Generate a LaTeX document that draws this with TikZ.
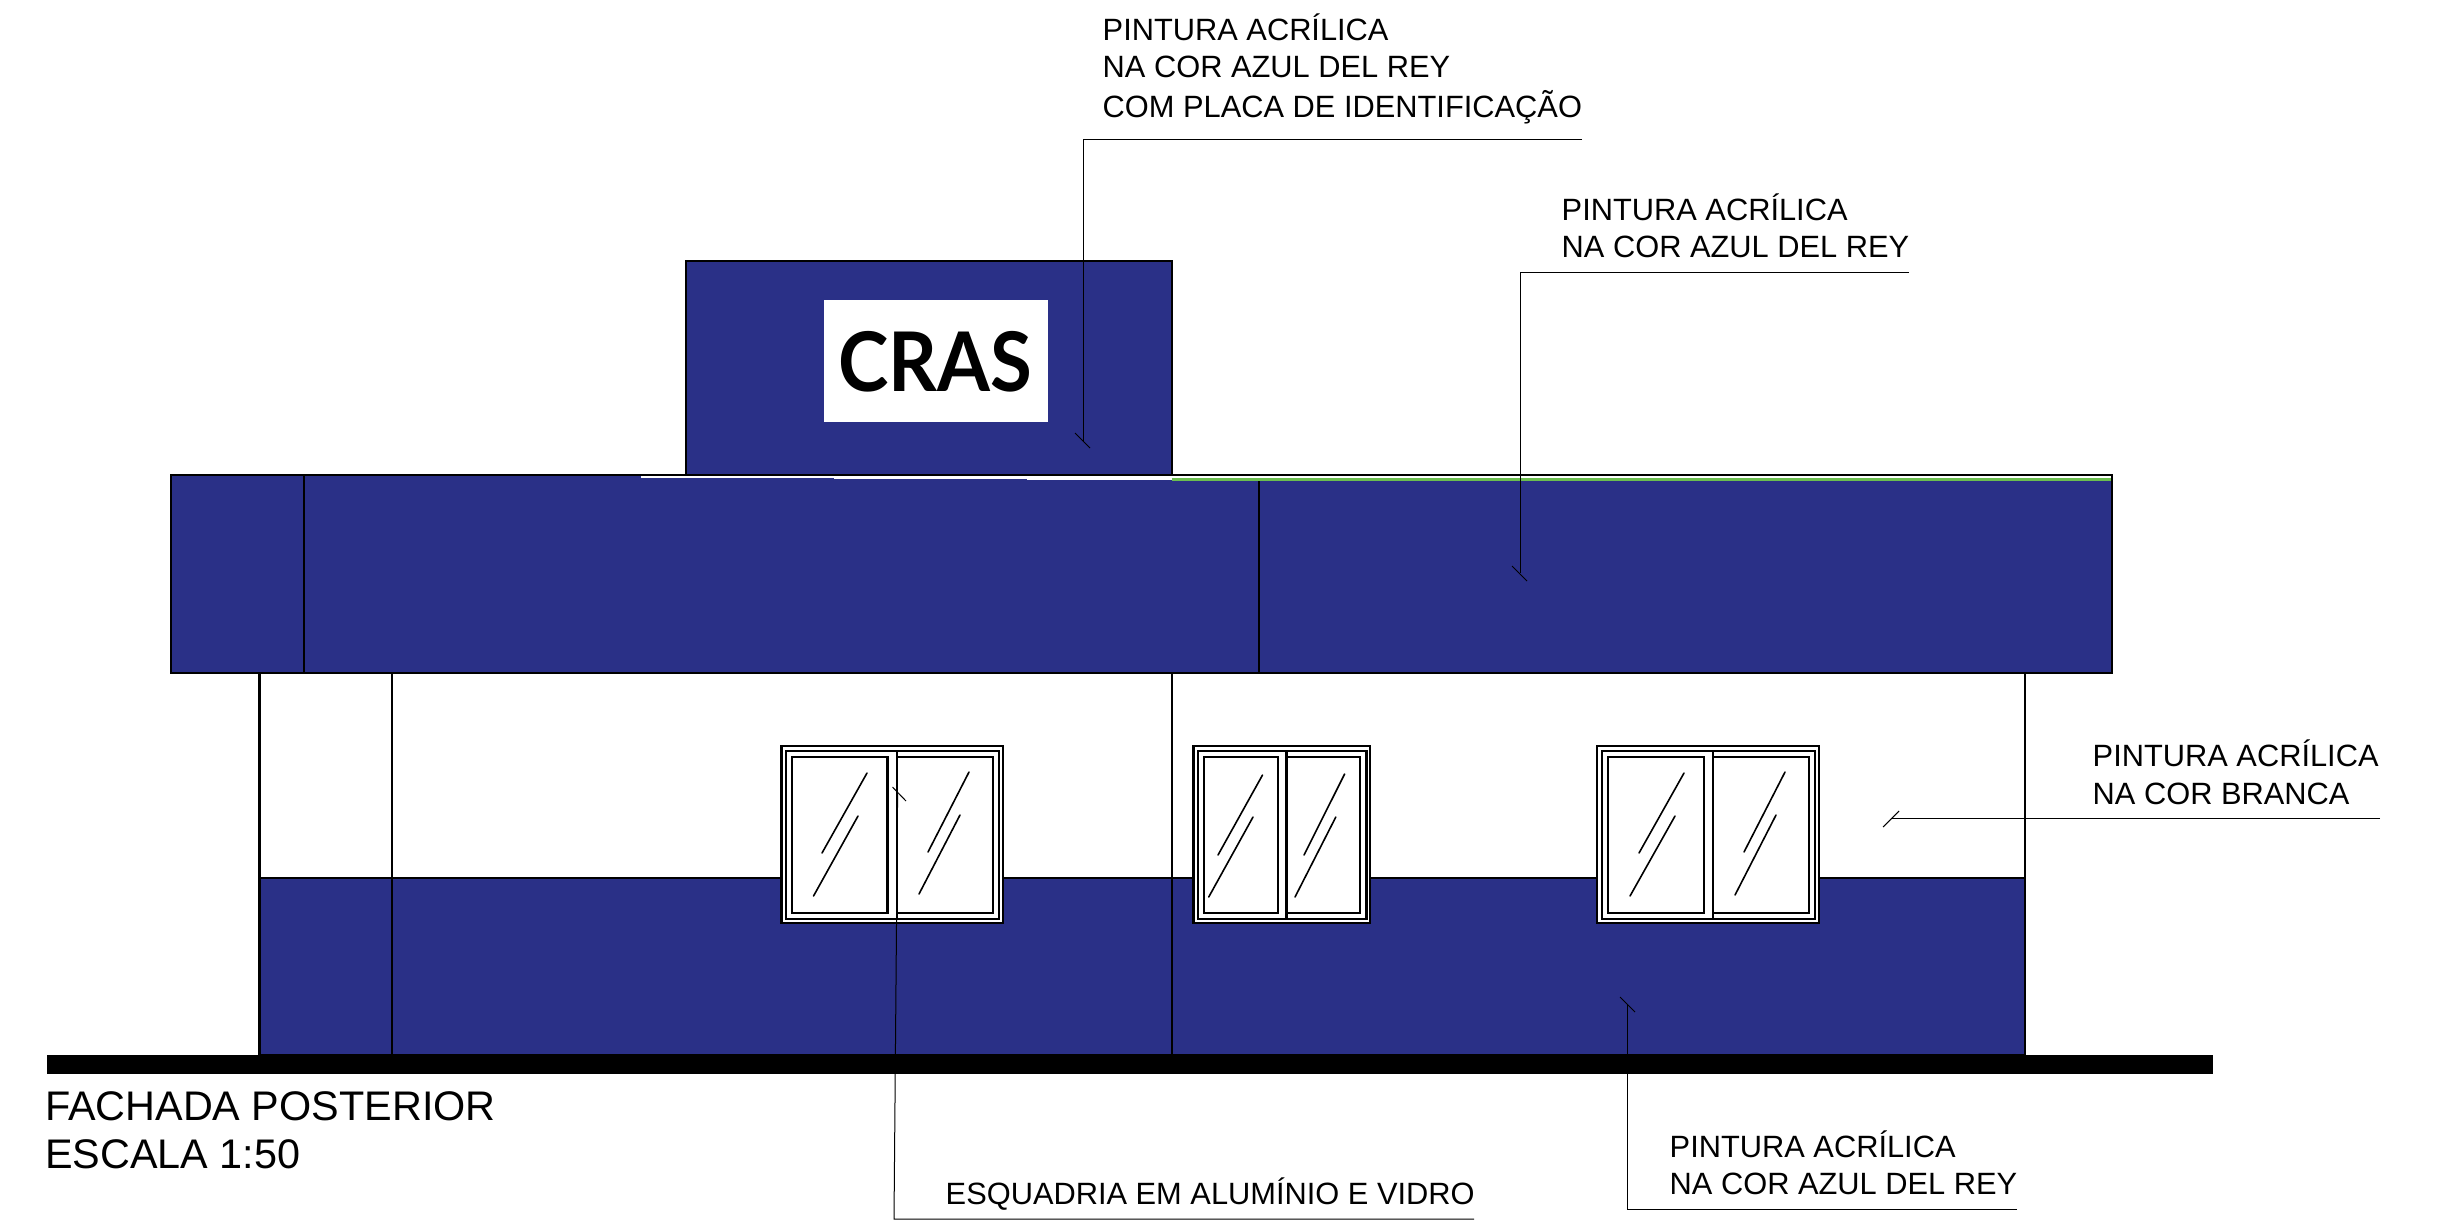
\documentclass[tikz,border=0pt]{standalone}
\usepackage{fontspec}
\setmainfont{Liberation Sans}
\newfontfamily\placafont{Lato}
\definecolor{azuldelrey}{RGB}{42,48,135}
\definecolor{verdefaixa}{RGB}{108,190,80}
\tikzset{
  contorno/.style={line width=0.021cm,black},
  pintado/.style={contorno,fill=azuldelrey},
  vidro/.style={line width=0.016cm,line cap=round},
  guia/.style={line width=0.010cm,black},
  rotulo/.style={anchor=base west,inner sep=0pt,font=\fontsize{8.76}{10}\selectfont},
  titulo/.style={anchor=base west,inner sep=0pt,font=\fontsize{11.76}{14}\selectfont}
}
\begin{document}
\begin{tikzpicture}[x=0.01cm,y=-0.01cm]
\useasboundingbox (0,0) rectangle (2437,1223);

% Drawing upper block with sign
\draw [pintado] (686,261) rectangle (1172,475);%
\fill [white] (824,300) rectangle (1048,422);%
\node (placa) at (935,362) {\scalebox{0.925}[1]{\placafont\bfseries\fontsize{23.4}{26}\selectfont CRAS}};%

% Drawing band
\draw [pintado] (171,475) rectangle (2112,673);%
\draw [contorno] (304,475) -- (304,673);%
\draw [contorno] (1259,475) -- (1259,673);%

% Drawing sliver along top of band
\foreach \xa/\xb/\yb in {641/738/477.6,738/834/478,834/931/478.5,931/1027/479,1027/1124/479.5,1124/1172/480}
  \fill [white] (\xa,476) rectangle (\xb,\yb);%
\fill [white] (1172,476) rectangle (2111,478.4);%
\fill [verdefaixa] (1172,478.4) rectangle (2111,480.6);%

% Drawing lower wall
\draw [pintado] (259.5,878) rectangle (2025,1055);%
\draw [contorno] (259.5,673) -- (259.5,1055);%
\draw [contorno] (392,673) -- (392,1055);%
\draw [contorno] (1172,673) -- (1172,1055);%
\draw [contorno] (2025,673) -- (2025,1055);%

% Drawing ground
\fill [black] (47,1055) rectangle (2213,1074);%

% Drawing windows
\foreach \xa/\xb/\xc/\xd/\xe/\xf/\xg/\xh in {781.5/1003/786/999/792/887.5/897/993,1193.5/1370/1198/1366.5/1203.6/1277.7/1286.5/1360,1597/1819/1602/1815/1608/1704/1713/1809}{
  \draw [contorno,fill=white] (\xa,746) rectangle (\xb,923);%
  \draw [contorno] (\xc,751) rectangle (\xd,919);%
  \draw [contorno] (\xe,757) rectangle (\xf,913);%
  \draw [contorno] (\xg,757) -- (\xh,757) -- (\xh,913) -- (\xg,913);%
  \draw [contorno] (\xg,751) -- (\xg,919);%
}

% Drawing glass marks
\draw [vidro] (867,773) -- (822,853);%
\draw [vidro] (858,816) -- (813.5,896);%
\draw [vidro] (969,772) -- (928,852);%
\draw [vidro] (960,815) -- (919,894);%
\draw [vidro] (1262.5,775) -- (1218,855);%
\draw [vidro] (1253,817) -- (1208.7,897);%
\draw [vidro] (1344.6,774) -- (1304,855);%
\draw [vidro] (1335.8,817) -- (1295,897);%
\draw [vidro] (1684,773) -- (1639,853);%
\draw [vidro] (1675,816) -- (1630,896);%
\draw [vidro] (1785,772) -- (1744,852);%
\draw [vidro] (1776,815) -- (1735,895);%

% Drawing leader for sign
\draw [guia] (1582,139) -- (1083,139) -- (1083,441);%
\draw [guia] (1075,433) -- (1090,448);%
\node (placaA) [rotulo] at (1102,40) {PINTURA ACRÍLICA};%
\node (placaB) [rotulo] at (1102,77) {NA COR AZUL DEL REY};%
\node (placaC) [rotulo] at (1102,117) {COM PLACA DE IDENTIFICAÇÃO};%

% Drawing leader for band
\draw [guia] (1909,272) -- (1520,272) -- (1520,573);%
\draw [guia] (1512,566) -- (1527,581);%
\node (faixaA) [rotulo] at (1561,220) {PINTURA ACRÍLICA};%
\node (faixaB) [rotulo] at (1561,257) {NA COR AZUL DEL REY};%

% Drawing leader for white wall
\draw [guia] (2380,818) -- (1892,818);%
\draw [guia] (1883,827) -- (1899,811);%
\node (brancaA) [rotulo] at (2092,766) {PINTURA ACRÍLICA};%
\node (brancaB) [rotulo] at (2092,804) {NA COR BRANCA};%

% Drawing leader for blue wall
\draw [guia] (2017,1209) -- (1627,1209) -- (1627,1005);%
\draw [guia] (1620,997) -- (1635,1012);%
\node (azulA) [rotulo] at (1669,1157) {PINTURA ACRÍLICA};%
\node (azulB) [rotulo] at (1669,1194) {NA COR AZUL DEL REY};%

% Drawing leader for window
\draw [guia] (1474,1219) -- (894,1219) -- (897.6,794);%
\draw [guia] (892.5,787) -- (906,801);%
\node (esquadria) [rotulo] at (945,1204) {ESQUADRIA EM ALUMÍNIO E VIDRO};%

% Marking title
\node (fachada) [titulo] at (44.5,1120) {FACHADA POSTERIOR};%
\node (escala) [titulo] at (44.5,1168) {ESCALA 1:50};%
\end{tikzpicture}
\end{document}
